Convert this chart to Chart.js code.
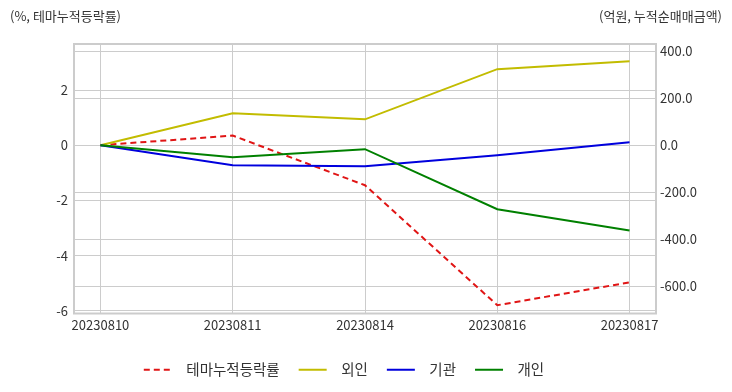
<!DOCTYPE html>
<html>
<head>
<meta charset="utf-8">
<script src="https://cdn.jsdelivr.net/npm/chart.js@4"></script>
<style>
  body { margin: 0; background: #fff; }
  #wrap { position: relative; width: 732px; height: 392px; }
  .axisTitle { position: absolute; top: 6px; font: 13px "Noto Sans CJK KR", "Noto Sans", sans-serif; color: #333; }
  #tLeft { left: 10px; }
  #tRight { right: 10px; }
</style>
</head>
<body>
<div id="wrap">
  <canvas id="c" width="732" height="392"></canvas>
  <div class="axisTitle" id="tLeft">(%, 테마누적등락률)</div>
  <div class="axisTitle" id="tRight">(억원, 누적순매매금액)</div>
</div>
<script>
/* ---------- data ---------- */
const dates = ['20230810', '20230811', '20230814', '20230816', '20230817'];
const themeRate = [0, 0.35, -1.45, -5.8, -4.97];      // %, left axis
const foreign = [0, 136, 110, 323, 357];               // 억원, right axis
const institution = [0, -85, -89, -43, 13];
const individual = [0, -51, -17, -272, -362];

const leftTicks = [-6, -4, -2, 0, 2];
const rightTicks = [-600, -400, -200, 0, 200, 400];

const toXY = arr => arr.map((v, i) => ({ x: i, y: v }));
const FONT = '"Noto Sans CJK KR", "Noto Sans", sans-serif';

/* plot border + legend nudged left like the original */
const frame = {
  id: 'frame',
  afterLayout(chart) {
    chart.legend.left -= 22;
    chart.legend.right -= 22;
  },
  afterDraw(chart) {
    const a = chart.chartArea, ctx = chart.ctx;
    ctx.save();
    ctx.strokeStyle = '#cccccc';
    ctx.lineWidth = 2;
    ctx.strokeRect(a.left, a.top, a.right - a.left, a.bottom - a.top);
    ctx.restore();
  }
};

const chart = new Chart(document.getElementById('c'), {
  type: 'line',
  data: {
    datasets: [
      { label: '테마누적등락률', data: toXY(themeRate), yAxisID: 'yL', borderColor: '#e01515', borderWidth: 2, borderDash: [6, 4], order: 4 },
      { label: '외인', data: toXY(foreign), yAxisID: 'yR', borderColor: '#c2bc00', borderWidth: 2, order: 3 },
      { label: '기관', data: toXY(institution), yAxisID: 'yR', borderColor: '#0000dd', borderWidth: 2, order: 2 },
      { label: '개인', data: toXY(individual), yAxisID: 'yR', borderColor: '#008000', borderWidth: 2, order: 1 }
    ]
  },
  options: {
    responsive: false,
    devicePixelRatio: 1,
    animation: false,
    layout: { padding: { top: 44, left: 0, right: 0, bottom: 5 } },
    elements: {
      point: { radius: 0 },
      line: { tension: 0, backgroundColor: 'transparent' }
    },
    scales: {
      x: {
        type: 'linear',
        min: -0.2, max: 4.2,
        afterBuildTicks: s => { s.ticks = dates.map((d, i) => ({ value: i })); },
        afterFit: s => { s.height = 30; },
        grid: { color: '#cccccc', drawTicks: false },
        border: { display: false },
        ticks: { padding: 4, color: '#333', font: { family: FONT, size: 13 }, callback: v => dates[v], maxRotation: 0 }
      },
      yL: {
        position: 'left',
        min: -6.1, max: 3.67,
        afterBuildTicks: s => { s.ticks = leftTicks.map(v => ({ value: v })); },
        afterFit: s => { s.width = 74; },
        grid: { color: '#cccccc', drawTicks: false },
        border: { display: false },
        ticks: { padding: 6, color: '#333', font: { family: FONT, size: 13 } }
      },
      yR: {
        position: 'right',
        min: -715, max: 430,
        afterBuildTicks: s => { s.ticks = rightTicks.map(v => ({ value: v })); },
        afterFit: s => { s.width = 76; },
        grid: { color: '#cccccc', drawTicks: false },
        border: { display: false },
        ticks: { padding: 4, color: '#333', font: { family: FONT, size: 13 }, callback: v => v.toFixed(1) }
      }
    },
    plugins: {
      tooltip: { enabled: false },
      legend: {
        position: 'bottom',
        labels: {
          usePointStyle: true,
          pointStyle: 'line',
          pointStyleWidth: 28,
          padding: 19,
          color: '#333',
          font: { family: FONT, size: 14.5 },
          sort: (a, b) => a.datasetIndex - b.datasetIndex,
          generateLabels: c => Chart.defaults.plugins.legend.labels.generateLabels(c).map(item => {
            const ds = c.data.datasets[item.datasetIndex];
            item.text = '\u2002' + item.text;
            item.lineWidth = 2;
            item.lineDash = ds.borderDash || [];
            item.strokeStyle = ds.borderColor;
            return item;
          })
        }
      }
    }
  },
  plugins: [frame]
});
</script>
</body>
</html>
